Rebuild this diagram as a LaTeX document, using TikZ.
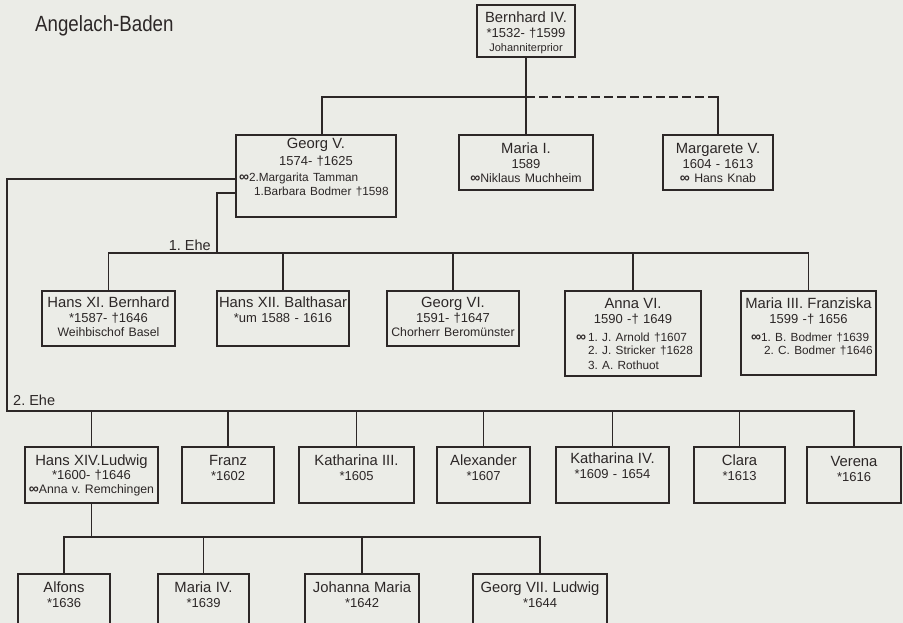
\documentclass[tikz,border=0pt]{standalone}
\usepackage{fontspec}
\setmainfont{Liberation Sans}
\frenchspacing

\definecolor{paper}{RGB}{235,236,231}
\definecolor{ink}{RGB}{44,39,39}

\newcommand{\pname}[1]{{\fontsize{14.8}{14.5}\selectfont #1}}
\newcommand{\pnote}[1]{{\fontsize{12.3}{14.5}\selectfont #1}}
\newcommand{\psmall}[1]{{\fontsize{11.8}{14.5}\selectfont #1}}
\newcommand{\pwed}{{\fontsize{14}{14.5}\selectfont\bfseries ∞}}
\newcommand{\pline}[2]{\makebox[#1][l]{#2}}

\begin{document}
\begin{tikzpicture}[x=1pt,y=-1pt,
    person/.style={draw=ink,line width=1.6pt,anchor=north,inner sep=0pt,align=center,
      text=ink,text height=18pt,font=\fontsize{13}{14.5}\selectfont},
    conn/.style={draw=ink,line width=1.6pt,line cap=rect},
    ehe/.style={text=ink,inner sep=0pt,font=\fontsize{14.5}{14.5}\selectfont}]

    \useasboundingbox (0,0) rectangle (903,623);
    \clip (0,0) rectangle (903,623);
    \fill[paper] (0,0) rectangle (903,623);

    \node[anchor=base west,inner sep=0pt,text=ink] (title) at (35,32)
      {\scalebox{0.85}[1]{\fontsize{22}{22}\selectfont Angelach-Baden}};

    \node[person,text width=98pt,text depth=34pt] (bernhard) at (526,4)
      {\pname{Bernhard IV.}\\{*}1532- †1599\\{\fontsize{11}{14.5}\selectfont Johanniterprior}};

    \node[person,text width=160pt,text height=14pt,text depth=68pt] (georgV) at (316,134)
      {\pname{Georg V.}\\[2.5pt]1574- †1625\\[1.5pt]
       \psmall{\pline{134pt}{\llap{\pwed}2.Margarita Tamman}}\\[-0.5pt]
       \psmall{\pline{134pt}{\hspace{5pt}1.Barbara Bodmer †1598}}};
    \node[person,text width=134pt,text height=19pt,text depth=36pt] (mariaI) at (526,134)
      {\pname{Maria I.}\\1589\\\pnote{\pwed Niklaus Muchheim}};
    \node[person,text width=110pt,text height=19pt,text depth=36pt] (margarete) at (718,134)
      {\pname{Margarete V.}\\1604 - 1613\\\pnote{\pwed\ Hans Knab}};

    \node[ehe,anchor=base east] (ehe1) at (211,250) {1. Ehe};

    \node[person,text width=133pt,text height=17pt,text depth=38pt] (hansXI) at (108.5,290)
      {\pname{Hans XI. Bernhard}\\{*}1587- †1646\\\pnote{Weihbischof Basel}};
    \node[person,text width=132pt,text height=17pt,text depth=38pt] (hansXII) at (283,290)
      {\pname{Hans XII. Balthasar}\\{*}um 1588 - 1616};
    \node[person,text width=132pt,text height=17pt,text depth=38pt] (georgVI) at (453,290)
      {\pname{Georg VI.}\\1591- †1647\\\pnote{Chorherr Beromünster}};
    \node[person,text width=136pt,text depth=67pt] (annaVI) at (633,290)
      {\pname{Anna VI.}\\1590 -† 1649\\[3.5pt]
       \psmall{\pline{90pt}{\llap{\pwed\,}1. J. Arnold †1607}}\\[-1pt]
       \psmall{\pline{90pt}{2. J. Stricker †1628}}\\
       \psmall{\pline{90pt}{3. A. Rothuot}}};
    \node[person,text width=135pt,text depth=66pt] (mariaIII) at (808.5,290)
      {\pname{Maria III. Franziska}\\1599 -† 1656\\[3.5pt]
       \psmall{\pline{95pt}{\llap{\pwed}1. B. Bodmer †1639}}\\[-1pt]
       \psmall{\pline{95pt}{\hspace{3pt}2. C. Bodmer †1646}}};

    \node[ehe,anchor=base west] (ehe2) at (13,405) {2. Ehe};

    \node[person,text width=133pt,text height=19pt,text depth=37pt] (hansXIV) at (91.5,446)
      {\pname{Hans XIV.Ludwig}\\[-1pt]{*}1600- †1646\\\pnote{\pwed Anna v. Remchingen}};
    \node[person,text width=92pt,text height=19pt,text depth=37pt] (franz) at (228,446)
      {\pname{Franz}\\{*}1602};
    \node[person,text width=115pt,text height=19pt,text depth=37pt] (kathIII) at (356.5,446)
      {\pname{Katharina III.}\\{*}1605};
    \node[person,text width=93pt,text height=19pt,text depth=37pt] (alexander) at (483.5,446)
      {\pname{Alexander}\\{*}1607};
    \node[person,text width=113pt,text height=17pt,text depth=39pt] (kathIV) at (612.5,446)
      {\pname{Katharina IV.}\\{*}1609 - 1654};
    \node[person,text width=91pt,text height=19pt,text depth=37pt] (clara) at (739.5,446)
      {\pname{Clara}\\{*}1613};
    \node[person,text width=94pt,text height=20pt,text depth=36pt] (verena) at (854,446)
      {\pname{Verena}\\{*}1616};

    \node[person,text width=92pt,text height=19pt,text depth=60pt] (alfons) at (64,573)
      {\pname{Alfons}\\{*}1636};
    \node[person,text width=91pt,text height=19pt,text depth=60pt] (mariaIV) at (203.5,573)
      {\pname{Maria IV.}\\{*}1639};
    \node[person,text width=114pt,text height=19pt,text depth=60pt] (johanna) at (362,573)
      {\pname{Johanna Maria}\\{*}1642};
    \node[person,text width=134pt,text height=19pt,text depth=60pt] (georgVII) at (540,573)
      {\pname{Georg VII. Ludwig}\\{*}1644};

    \coordinate (bus0) at (322,97);
    \coordinate (bus1) at (217,253);
    \coordinate (bus2) at (7,411);
    \coordinate (bus3) at (0,537);

    \draw[conn] (georgV.north -| bus0) -- (bus0) -- (bernhard.south |- bus0);
    \draw[conn] (bernhard.south) -- (mariaI.north);
    \draw[conn,line cap=butt,dash pattern=on 9pt off 4pt] (bernhard.south |- bus0) -- (margarete.north |- bus0);
    \draw[conn] (margarete.north |- bus0) -- (margarete.north);

    \draw[conn] (georgV.west |- 0,193) -| (bus1);
    \draw[conn] (hansXI.north |- bus1) -- (mariaIII.north |- bus1);
    \foreach \p in {hansXI,hansXII,georgVI,annaVI,mariaIII}
      \draw[conn] (\p.north |- bus1) -- (\p.north);

    \draw[conn] (georgV.west |- 0,179) -| (bus2) -- (verena.north |- bus2);
    \foreach \p in {hansXIV,franz,kathIII,alexander,kathIV,clara,verena}
      \draw[conn] (\p.north |- bus2) -- (\p.north);

    \draw[conn] (hansXIV.south) -- (hansXIV.south |- bus3);
    \draw[conn] (alfons.north |- bus3) -- (georgVII.north |- bus3);
    \foreach \p in {alfons,mariaIV,johanna,georgVII}
      \draw[conn] (\p.north |- bus3) -- (\p.north);

\end{tikzpicture}
\end{document}
